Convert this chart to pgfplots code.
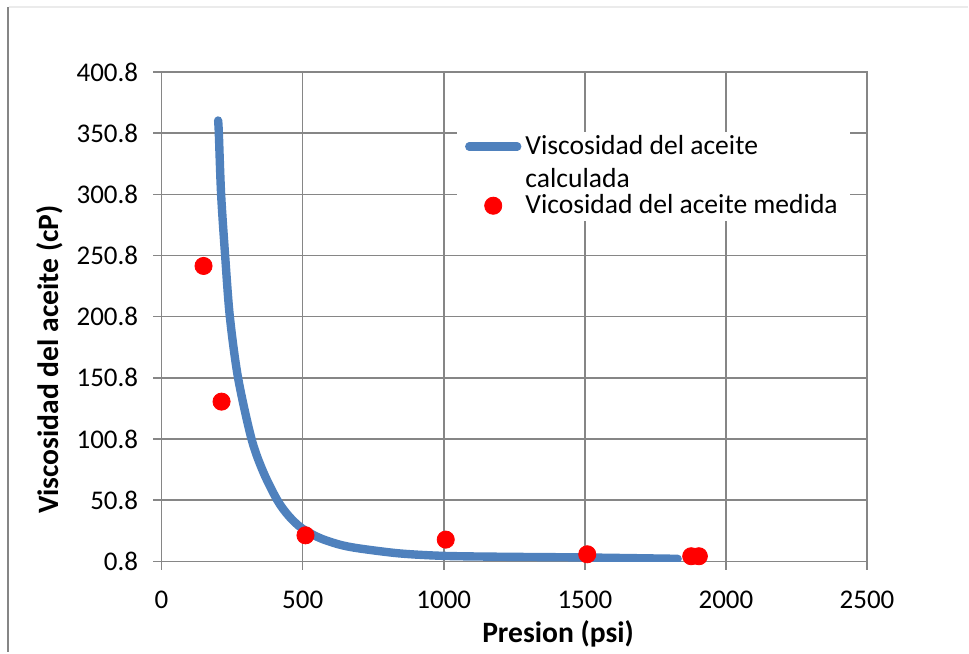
\documentclass[border=0pt]{standalone}
\usepackage{fontspec}
\setmainfont{Carlito}
\usepackage{pgfplots}
\pgfplotsset{compat=1.18}
\definecolor{curveblue}{RGB}{79,129,189}
\definecolor{gridgray}{RGB}{134,134,134}
\pgfplotsset{
  legline/.style={legend image code/.code={\path (0pt,0pt) (24pt,0pt);\draw[##1] (0pt,8.25pt) -- (24pt,8.25pt);}},
  legdot/.style={legend image code/.code={\draw[mark repeat=2,mark phase=2,##1] plot coordinates {(0pt,0pt) (12pt,0pt) (24pt,0pt)};}},
}

\begin{document}
\begin{tikzpicture}
\begin{axis}[
  scale only axis,
  width=353pt, height=244.85pt,
  xmin=0, xmax=2500, ymin=0.8, ymax=400.8,
  xtick={0,500,1000,1500,2000,2500},
  xticklabels={0,500,1000,1500,2000,2500},
  ytick={0.8,50.8,100.8,150.8,200.8,250.8,300.8,350.8,400.8},
  yticklabels={0.8,50.8,100.8,150.8,200.8,250.8,300.8,350.8,400.8},
  grid=major,
  major grid style={gridgray, line width=0.75pt},
  axis line style={gridgray, line width=0.75pt},
  tick style={gridgray, line width=0.75pt},
  tick align=outside, major tick length=4.2pt,
  tick pos=left,
  ticklabel style={font=\fontsize{13.5}{16}\selectfont, text=black},
  xticklabel style={yshift=-7pt},
  yticklabel style={xshift=-4pt},
  xlabel={Presion (psi)},
  ylabel={Viscosidad del aceite (cP)},
  label style={font=\fontsize{14.8}{18}\selectfont\bfseries},
  xlabel style={at={(axis description cs:0.562,-0.166)}, anchor=base},
  ylabel style={at={(axis description cs:-0.1584,0.412)}, anchor=center},
  legend style={at={(axis description cs:0.4183,0.879)}, anchor=north west,
    draw=none, fill=white, font=\fontsize{13.8}{16.5}\selectfont,
    inner ysep=0pt, inner xsep=4pt,
    cells={anchor=west, align=left, inner ysep=3.6pt}, row sep=-2pt},
]
\addplot[curveblue, line width=4.2pt, line cap=round, smooth, legline]
  coordinates {
  (200.4,361.1) (202.9,350.8) (211,300.8) (225.2,250.8) (241.9,200.8)
  (271,150.8) (318.7,100.8) (360,74) (410,50.8) (450,38) (496,28)
  (560,19.9) (631,14.4) (700,11.3) (844,7.2) (1000,5.2) (1200,4.5)
  (1500,3.9) (1829,2.8)
};
\addlegendentry{Viscosidad del aceite\\calculada}
\addplot[only marks, mark=*, mark size=4.3pt, color=red, fill=red, legdot]
  coordinates {
  (148.7,242.2) (212.5,131.3) (510,22.0) (1007,18.5) (1508.5,6.5)
  (1877,4.9) (1904,4.9)
};
\addlegendentry{Vicosidad del aceite medida}
\end{axis}
% chart frame fragments
\draw[gridgray, line width=1pt] (-76.85pt,277.35pt) -- (-76.85pt,-45.65pt);
\draw[black!8, line width=0.75pt] (-76.3pt,277.35pt) -- (403.65pt,277.35pt);
\useasboundingbox (-80.85pt,-45.65pt) rectangle (403.65pt,280.85pt);
\end{tikzpicture}
\end{document}
